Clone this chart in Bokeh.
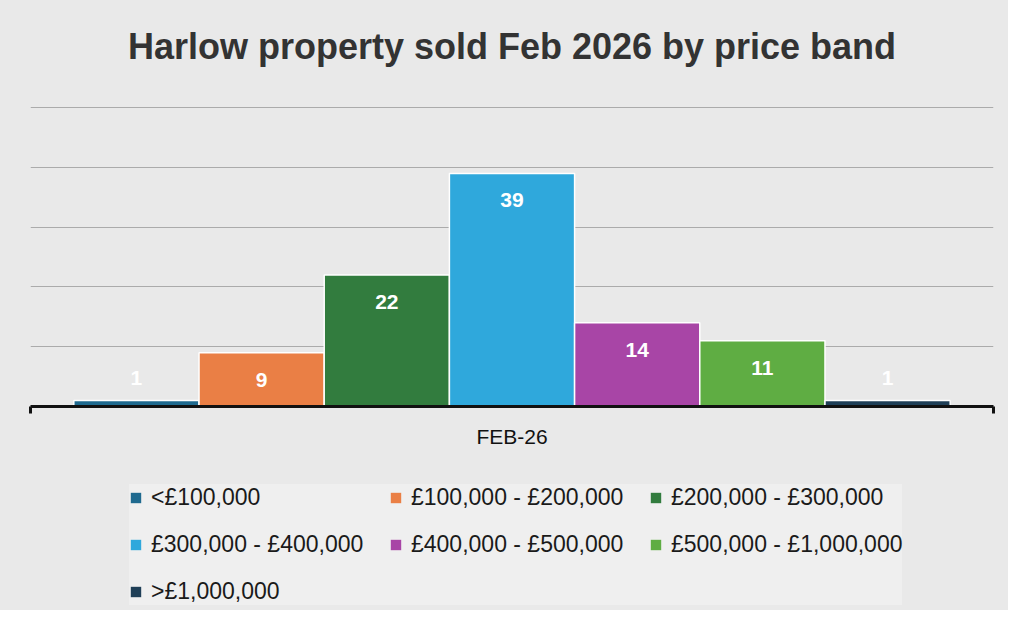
from bokeh.plotting import figure
from bokeh.layouts import column
from bokeh.models import Range1d, FixedTicker, Legend, LegendItem, ColumnDataSource
from bokeh.core.properties import value
from bokeh.embed import file_html
from bokeh.resources import INLINE

title = "Harlow property sold Feb 2026 by price band"
month = "FEB-26"
bands = ["<£100,000", "£100,000 - £200,000", "£200,000 - £300,000",
         "£300,000 - £400,000", "£400,000 - £500,000", "£500,000 - £1,000,000",
         ">£1,000,000"]
counts = [1, 9, 22, 39, 14, 11, 1]
colors = ["#1f6a8f", "#ea7f45", "#327c3e", "#2fa8dc", "#a845a6", "#5fad43", "#1f3f57"]
grid_values = [10, 20, 30, 40, 50]

BG = "#e9e9e9"
FONT = "Liberation Sans"
W = 1008

n = len(bands)
xs = list(range(n))
pad = 0.343


def style(fig):
    fig.background_fill_color = None
    fig.border_fill_color = BG
    fig.outline_line_color = None


# ---- title strip ----
tf = figure(width=W, height=90, output_backend="svg", toolbar_location=None,
            x_range=Range1d(0, 1), y_range=Range1d(0, 1),
            min_border_top=0, min_border_bottom=0, min_border_left=0, min_border_right=0)
style(tf)
tf.axis.visible = False
tf.grid.visible = False
tf.title.text = title
tf.title.align = "center"
tf.title.text_font = FONT
tf.title.text_font_size = "36px"
tf.title.text_font_style = "bold"
tf.title.text_color = "#333333"
tf.title.standoff = 47

# ---- chart ----
p = figure(width=W, height=370, output_backend="svg", toolbar_location=None, title=None,
           x_range=Range1d(-0.5 - pad - 0.003, n - 0.5 + pad + 0.003),
           y_range=Range1d(0, 50.2),
           min_border_left=30, min_border_right=15, min_border_top=16, min_border_bottom=54)
style(p)

p.yaxis.visible = False
p.yaxis.ticker = FixedTicker(ticks=grid_values)
p.ygrid.grid_line_color = "#ababab"
p.ygrid.grid_line_width = 1.2
p.xgrid.visible = False

center = (n - 1) / 2
p.xaxis.ticker = FixedTicker(ticks=[center], minor_ticks=[-0.5 - pad, n - 0.5 + pad])
p.xaxis.major_label_overrides = {center: month}
p.xaxis.major_tick_line_color = None
p.xaxis.minor_tick_in = 0
p.xaxis.minor_tick_out = 7
p.xaxis.minor_tick_line_width = 3
p.xaxis.minor_tick_line_color = "#111111"
p.xaxis.axis_line_color = "#111111"
p.xaxis.axis_line_width = 3
p.xaxis.major_label_text_font = FONT
p.xaxis.major_label_text_font_size = "21px"
p.xaxis.major_label_text_color = "#111111"
p.xaxis.major_label_standoff = 11

for i in range(n):
    src = ColumnDataSource(dict(x=[xs[i]], top=[counts[i]]))
    p.vbar(x="x", top="top", width=1, bottom=0, source=src,
           fill_color=colors[i], line_color="white", line_width=1.5)

inside = [i for i in range(n) if counts[i] >= 5]
outside = [i for i in range(n) if counts[i] < 5]
p.text(x=[xs[i] for i in inside], y=[counts[i] for i in inside],
       text=[str(counts[i]) for i in inside], y_offset=27,
       text_align="center", text_baseline="middle", text_color="white",
       text_font=value(FONT), text_font_style="bold", text_font_size="21px")
p.text(x=[xs[i] for i in outside], y=[counts[i] for i in outside],
       text=[str(counts[i]) for i in outside], y_offset=-23,
       text_align="center", text_baseline="middle", text_color="white",
       text_font=value(FONT), text_font_style="bold", text_font_size="21px")

# ---- legend strip (legend keys use hidden copies of the bars) ----
lf = figure(width=W, height=150, output_backend="svg", toolbar_location=None, title=None,
            x_range=Range1d(-0.5, n - 0.5), y_range=Range1d(0, 50),
            min_border_top=0, min_border_bottom=0, min_border_left=30, min_border_right=15)
style(lf)
lf.axis.visible = False
lf.grid.visible = False
items = []
for i in range(n):
    r = lf.vbar(x=[xs[i]], top=[counts[i]], width=1, fill_color=colors[i],
                line_color=None, visible=False)
    items.append(LegendItem(label=bands[i], renderers=[r]))

legend = Legend(items=items, ncols=3, orientation="horizontal", location=(99, 5))
legend.background_fill_color = "#efefef"
legend.background_fill_alpha = 1
legend.border_line_color = None
legend.label_text_font = FONT
legend.label_text_font_size = "23px"
legend.label_text_color = "#1a1a1a"
legend.glyph_width = 13
legend.glyph_height = 13
legend.label_standoff = 9
legend.label_width = 218
legend.label_height = 26
legend.spacing = 20
legend.padding = 13
legend.margin = 0
lf.add_layout(legend, "center")

layout = column(tf, p, lf, spacing=0, styles={"background-color": BG})
open("out.html", "w").write(file_html(layout, INLINE))
